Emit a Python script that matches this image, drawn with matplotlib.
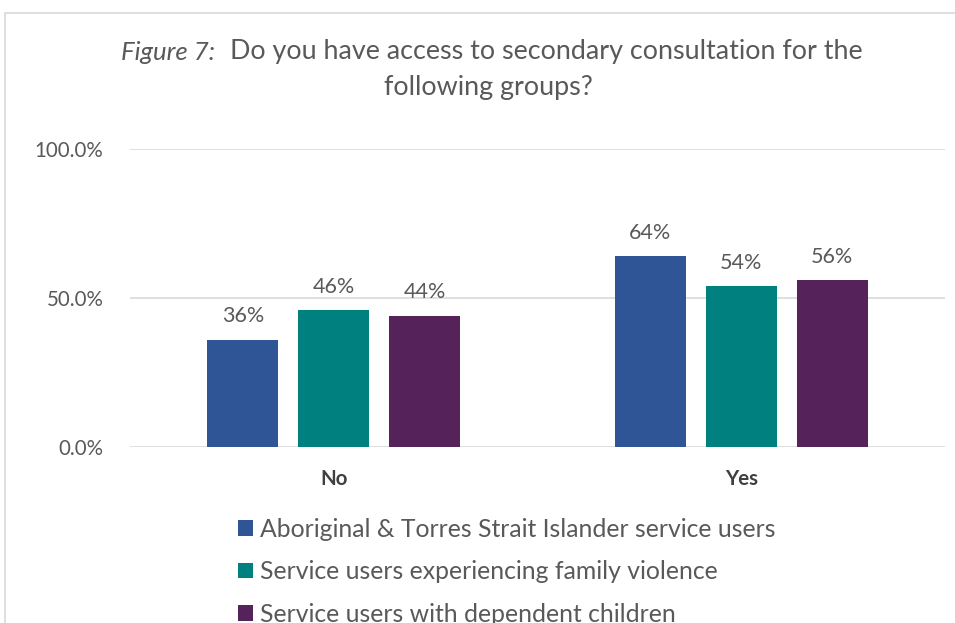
import matplotlib.pyplot as plt
from matplotlib.patches import Rectangle
from matplotlib.ticker import FuncFormatter

# survey answers, share of respondents
answers = ["No", "Yes"]
groups = [
    "Aboriginal & Torres Strait Islander service users",
    "Service users experiencing family violence",
    "Service users with dependent children",
]
atsi = [36, 64]
family_violence = [46, 54]
dependent_children = [44, 56]

colours = ["#2F5597", "#00807E", "#55235A"]
grey = "#595959"

plt.rcParams["font.family"] = ["Lato", "DejaVu Sans"]

fig = plt.figure(figsize=(9.55, 6.23), dpi=100)
fig.patches.append(Rectangle((5 / 955, -0.1), 1.2, 1 - 13 / 623 + 0.1,
                             transform=fig.transFigure, fill=False,
                             edgecolor="#D9D9D9", linewidth=1.2))

ax = fig.add_axes([130 / 955, 1 - 447 / 623, 815 / 955, 298 / 623])

x = range(len(answers))
width = 0.174
step = 0.223
for i, (vals, name) in enumerate(zip([atsi, family_violence, dependent_children], groups)):
    pos = [p + (i - 1) * step for p in x]
    bars = ax.bar(pos, vals, width, color=colours[i], label=name, zorder=3)
    for b, v in zip(bars, vals):
        ax.text(b.get_x() + b.get_width() / 2, v + 4.5, f"{v}%",
                ha="center", va="bottom", fontsize=15.5, color=grey)

ax.set_xlim(-0.5, 1.5)
ax.set_ylim(0, 100)
ax.set_yticks([0, 50, 100])
ax.yaxis.set_major_formatter(FuncFormatter(lambda v, _: f"{v:.1f}%"))
ax.set_xticks(list(x))
ax.set_xticklabels(answers, fontweight="bold")
ax.tick_params(axis="y", length=0, pad=19, labelsize=14.8, labelcolor=grey)
ax.tick_params(axis="x", length=0, pad=16, labelsize=14.8, labelcolor="#404040")
ax.grid(axis="y", color="#D9D9D9", linewidth=1.2, zorder=0)
for s in ax.spines.values():
    s.set_visible(False)

fig.text(215 / 955, 1 - 52 / 623, "Figure 7:", fontsize=18.5, style="italic",
         color=grey, va="center", ha="right")
fig.text(230 / 955, 1 - 52 / 623, "Do you have access to secondary consultation for the",
         fontsize=19.4, color=grey, va="center", ha="left")
fig.text(488 / 955, 1 - 88 / 623, "following groups?", fontsize=19.4, color=grey,
         va="center", ha="center")

fig.legend(loc="upper left", bbox_to_anchor=(238 / 955, 1 - 518 / 623),
           frameon=False, fontsize=17.8, labelcolor=grey, handlelength=0.6,
           handleheight=0.6, handletextpad=0.3, labelspacing=0.78,
           borderaxespad=0, borderpad=0)

fig.savefig("out.png", dpi=100)
